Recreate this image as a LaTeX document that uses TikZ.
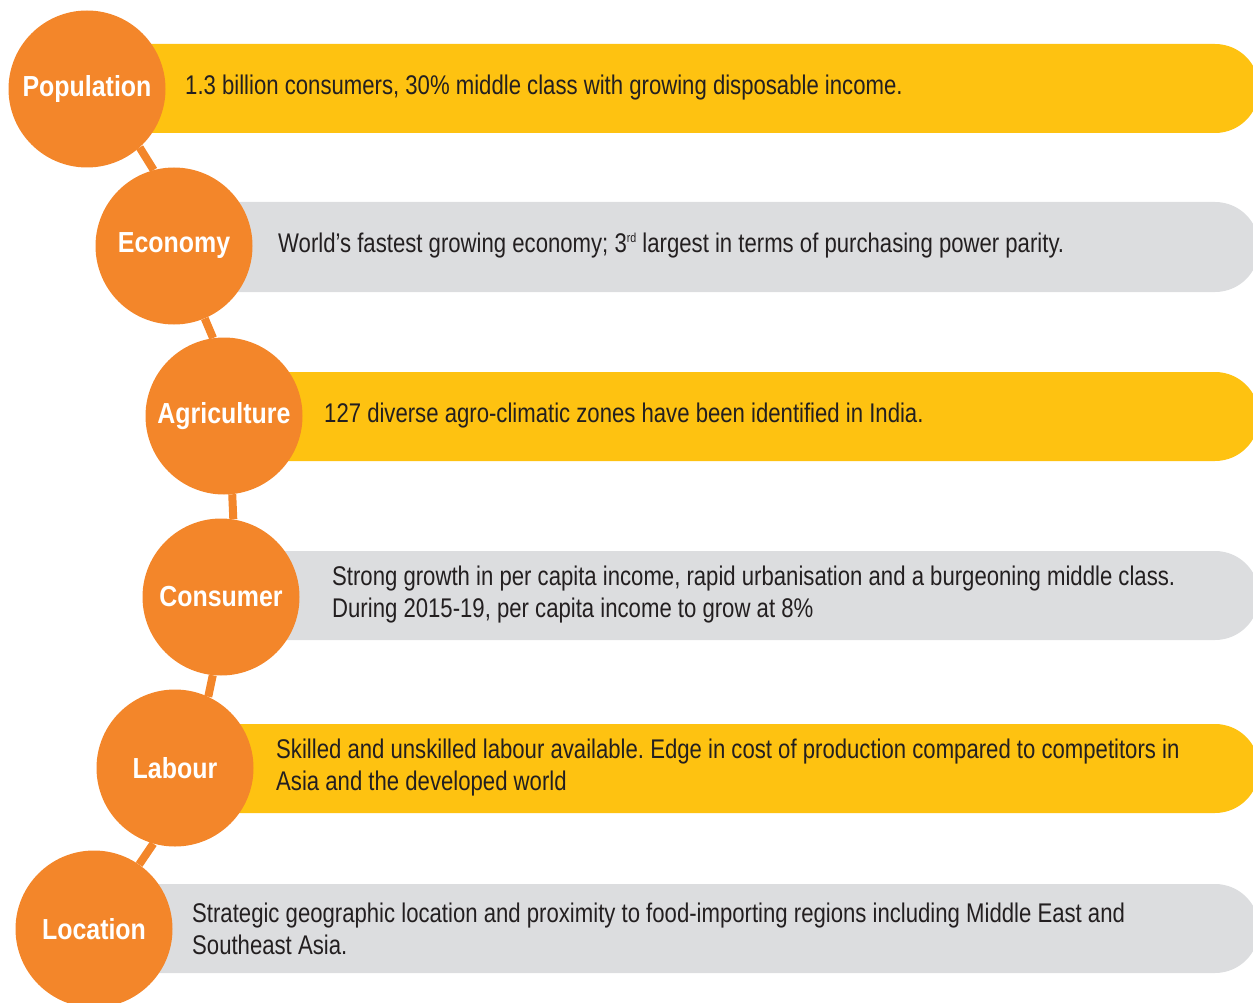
\documentclass[tikz,border=0pt]{standalone}
\usepackage{fontspec}
\setmainfont[FakeStretch=0.82]{Liberation Sans}
\newfontfamily\labelfont[FakeStretch=0.86]{Liberation Sans}
\definecolor{dotorange}{HTML}{F3862A}
\definecolor{baryellow}{HTML}{FEC211}
\definecolor{bargray}{HTML}{DCDDDF}
\definecolor{inktext}{HTML}{231F20}
\frenchspacing

\begin{document}
\begin{tikzpicture}[x=1pt,y=-1pt,
	bubble/.style={circle, fill=dotorange, minimum size=157pt, inner sep=0pt, text=white,
		font=\labelfont\bfseries\fontsize{29}{31}\selectfont},
	info/.style={anchor=west, align=left, inner sep=0pt, text=inktext,
		font=\fontsize{27}{32}\selectfont},
	link/.style={draw=dotorange, line width=8pt},
	yellowbar/.style={fill=baryellow, rounded corners=44pt},
	graybar/.style={fill=bargray, rounded corners=44pt}]
	\useasboundingbox (0,0) rectangle (1253,1003);
	\clip (0,0) rectangle (1253,1003);

	\fill [yellowbar] (87,44) rectangle (1259,133);
	\fill [graybar] (174,202) rectangle (1259,292);
	\fill [yellowbar] (224,372) rectangle (1259,461);
	\fill [graybar] (221,551) rectangle (1259,640);
	\fill [yellowbar] (174,724) rectangle (1259,813);
	\fill [graybar] (94,884) rectangle (1259,973);

	\node [bubble] (population) at (87,89) {Population};
	\node [bubble] (economy) at (174,246) {Economy};
	\node [bubble] (agriculture) at (224,416) {Agriculture};
	\node [bubble] (consumer) at (221,597) {Consumer};
	\node [bubble] (labour) at (175,768) {Labour};
	\node [bubble] (location) at (94,929) {Location};

	\draw [link] (population.-48) -- (economy.105);
	\draw [link] (economy.-67) -- (agriculture.98);
	\draw [link] (agriculture.-84) -- (consumer.81);
	\draw [link] (consumer.-96) -- (labour.65);
	\draw [link] (labour.-106) -- (location.55);

	\node [info] (populationtext) at (185,88) {1.3 billion consumers, 30\% middle class with growing disposable income.};
	\node [info] (economytext) at (278,246) {World’s fastest growing economy; 3\raisebox{10pt}{\fontsize{13}{13}\selectfont rd}\ largest in terms of purchasing power parity.};
	\node [info] (agriculturetext) at (324,416) {127 diverse agro-climatic zones have been identified in India.};
	\node [info] (consumertext) at (332,595) {Strong growth in per capita income, rapid urbanisation and a burgeoning middle class.\\During 2015-19, per capita income to grow at 8\%};
	\node [info] (labourtext) at (276,768) {Skilled and unskilled labour available. Edge in cost of production compared to competitors in\\Asia and the developed world};
	\node [info] (locationtext) at (192,929) {Strategic geographic location and proximity to food-importing regions including Middle East and\\Southeast Asia.};
\end{tikzpicture}
\end{document}
